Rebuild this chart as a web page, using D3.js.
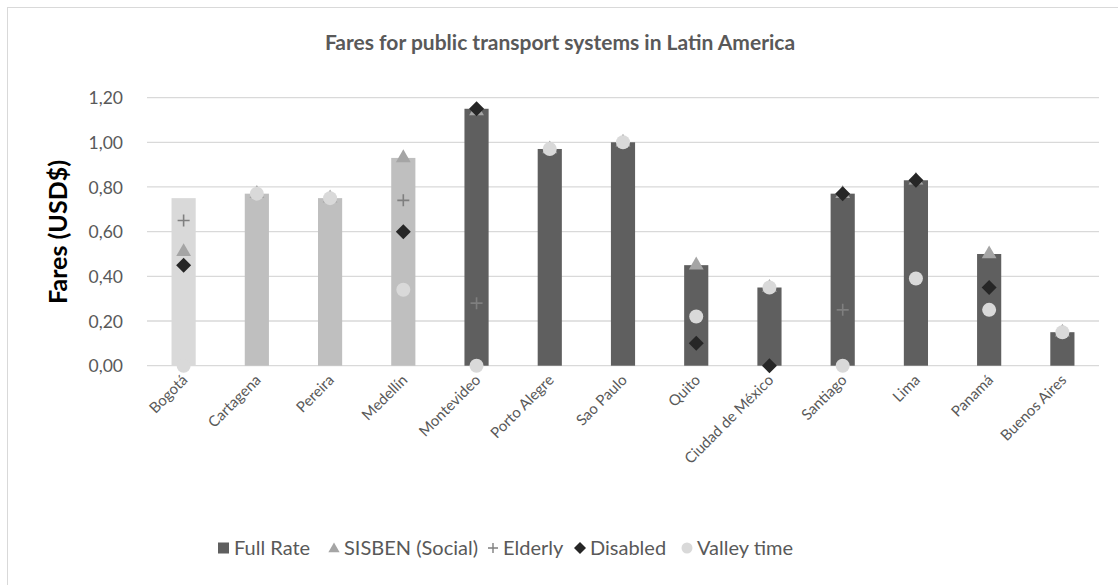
<!DOCTYPE html>
<html>
<head>
<meta charset="utf-8">
<script src="https://cdn.jsdelivr.net/npm/d3@7/dist/d3.min.js"></script>
<style>
  html, body { margin: 0; padding: 0; background: #fff; }
  svg { display: block; }
</style>
</head>
<body>
<svg id="chart" width="1118" height="585"></svg>
<script>
// Fares (USD$) by city
const categories = ["Bogotá", "Cartagena", "Pereira", "Medellín", "Montevideo", "Porto Alegre",
  "Sao Paulo", "Quito", "Ciudad de México", "Santiago", "Lima", "Panamá", "Buenos Aires"];
const fullRate   = [0.75, 0.77, 0.75, 0.93, 1.15, 0.97, 1.00, 0.45, 0.35, 0.77, 0.83, 0.50, 0.15];
const sisben     = [0.51, 0.77, 0.75, 0.93, 1.14, 0.97, 1.00, 0.45, 0.35, 0.77, 0.83, 0.50, 0.15];
const elderly    = [0.65, null, null, 0.74, 0.28, null, null, null, null, 0.25, null, null, null];
const disabled   = [0.45, null, null, 0.60, 1.15, null, null, 0.10, 0.00, 0.77, 0.83, 0.35, null];
const valleyTime = [0.00, 0.77, 0.75, 0.34, 0.00, 0.97, 1.00, 0.22, 0.35, 0.00, 0.39, 0.25, 0.15];
const yTicks = [0, 0.2, 0.4, 0.6, 0.8, 1.0, 1.2];
const legendLabels = ["Full Rate", "SISBEN (Social)", "Elderly", "Disabled", "Valley time"];
// Bar shade per city system
const barColors = ["#d9d9d9", "#bfbfbf", "#bfbfbf", "#bfbfbf", "#5f5f5f", "#5f5f5f", "#5f5f5f",
  "#5f5f5f", "#5f5f5f", "#5f5f5f", "#5f5f5f", "#5f5f5f", "#5f5f5f"];

const svg = d3.select("#chart");
const W = 1118, H = 585;
const font = "Lato, 'Open Sans', sans-serif";
const textColor = "#595959";

// Chart frame
svg.append("rect").attr("x", 7.5).attr("y", 7.5).attr("width", W + 10).attr("height", H + 10)
  .attr("fill", "#fff").attr("stroke", "#d9d9d9").attr("stroke-width", 1);

const plot = { left: 147, right: 1099, top: 97.6, bottom: 365.7 };

const x = d3.scaleBand().domain(categories).range([plot.left, plot.right]);
const y = d3.scaleLinear().domain([0, 1.2]).range([plot.bottom, plot.top]);
const barW = x.bandwidth() * 0.33;
const cx = c => x(c) + x.bandwidth() / 2;

// Gridlines
svg.append("g").selectAll("line").data(yTicks).join("line")
  .attr("x1", plot.left).attr("x2", plot.right)
  .attr("y1", d => y(d)).attr("y2", d => y(d))
  .attr("stroke", "#d9d9d9").attr("stroke-width", 1.3);

// Y axis labels
const yAxis = d3.axisLeft(y).tickValues(yTicks).tickSize(0).tickPadding(0)
  .tickFormat(d => d3.format(".2f")(d).replace(".", ","));
svg.append("g").attr("transform", `translate(${123},0)`).call(yAxis)
  .call(g => g.select(".domain").remove())
  .call(g => g.selectAll("text").attr("font-family", font).attr("font-size", 17.5)
    .attr("fill", textColor).attr("dy", "0.35em"));

// Y axis title
svg.append("text").attr("transform", `translate(67,${232}) rotate(-90)`)
  .attr("text-anchor", "middle").attr("font-family", font).attr("font-size", 25)
  .attr("font-weight", "bold").attr("fill", "#000").text("Fares (USD$)");

// Title
svg.append("text").attr("x", 560).attr("y", 50).attr("text-anchor", "middle")
  .attr("font-family", font).attr("font-size", 21).attr("font-weight", "bold")
  .attr("fill", textColor).text("Fares for public transport systems in Latin America");

// Bars (Full Rate)
svg.append("g").selectAll("rect").data(categories).join("rect")
  .attr("x", c => cx(c) - barW / 2).attr("width", barW)
  .attr("y", (c, i) => y(fullRate[i])).attr("height", (c, i) => y(0) - y(fullRate[i]))
  .attr("fill", (c, i) => barColors[i]);

// X axis labels
svg.append("g").selectAll("text").data(categories).join("text")
  .attr("transform", c => `translate(${cx(c) + 5},${381}) rotate(-45)`)
  .attr("text-anchor", "end").attr("font-family", font).attr("font-size", 15)
  .attr("fill", textColor).text(c => c);

// Marker series
const triPath = d3.symbol(d3.symbolTriangle, 95)();
const diaPath = "M0,-7.5L7.5,0L0,7.5L-7.5,0Z";
const plusPath = "M-6,0H6M0,-6V6";

function markers(values, tag) {
  const pts = categories.map((c, i) => ({ c, v: values[i] })).filter(d => d.v !== null);
  return svg.append("g").selectAll(tag).data(pts).join(tag)
    .attr("transform", d => `translate(${cx(d.c)},${y(d.v)})`);
}
markers(sisben, "path").attr("d", triPath).attr("fill", "#a5a5a5");
markers(elderly, "path").attr("d", plusPath).attr("fill", "none").attr("stroke", "#7f7f7f").attr("stroke-width", 1.6);
markers(disabled, "path").attr("d", diaPath).attr("fill", "#262626");
markers(valleyTime, "circle").attr("r", 7).attr("fill", "#d9d9d9");

// Legend
const legendY = 548;
const legendX = [218, 328, 487, 574, 681];
const leg = svg.append("g");
legendLabels.forEach((label, k) => {
  const g = leg.append("g").attr("transform", `translate(${legendX[k]},${legendY})`);
  if (k === 0) g.append("rect").attr("x", 0).attr("y", -5.5).attr("width", 11).attr("height", 11).attr("fill", "#5f5f5f");
  if (k === 1) g.append("path").attr("transform", "translate(6,1)").attr("d", d3.symbol(d3.symbolTriangle, 55)()).attr("fill", "#a5a5a5");
  if (k === 2) g.append("path").attr("transform", "translate(6,0)").attr("d", "M-5,0H5M0,-5V5").attr("stroke", "#7f7f7f").attr("stroke-width", 1.4);
  if (k === 3) g.append("path").attr("transform", "translate(6,0)").attr("d", "M0,-6L6,0L0,6L-6,0Z").attr("fill", "#262626");
  if (k === 4) g.append("circle").attr("cx", 6).attr("r", 5.5).attr("fill", "#d9d9d9");
  g.append("text").attr("x", 16).attr("dy", "0.36em").attr("font-family", font)
    .attr("font-size", 20).attr("fill", textColor).text(label);
});
</script>
</body>
</html>
